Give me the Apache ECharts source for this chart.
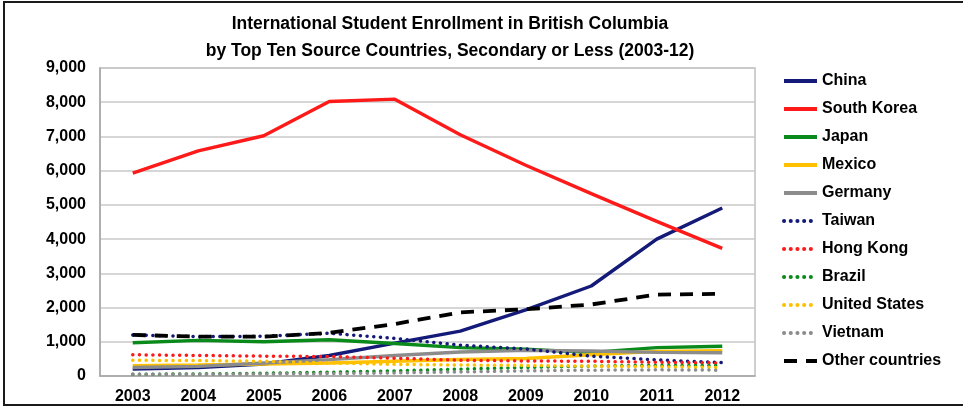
<!DOCTYPE html>
<html>
<head>
<meta charset="utf-8">
<script src="https://cdn.jsdelivr.net/npm/echarts@6/dist/echarts.min.js"></script>
<style>
html,body{margin:0;padding:0;background:#fff;}
#chart{width:963px;height:407px;}
</style>
</head>
<body>
<div id="chart"></div>
<script>
var years = ['2003','2004','2005','2006','2007','2008','2009','2010','2011','2012'];
var yTicks = [0,1000,2000,3000,4000,5000,6000,7000,8000,9000];

var china       = [200, 250, 350, 600, 960, 1310, 1930, 2630, 4000, 4910];
var southKorea  = [5930, 6580, 7020, 8020, 8090, 7050, 6160, 5330, 4520, 3730];
var japan       = [970, 1040, 1000, 1060, 950, 830, 780, 690, 830, 870];
var mexico      = [300, 320, 350, 380, 430, 480, 510, 620, 720, 740];
var germany     = [250, 280, 380, 480, 600, 700, 750, 730, 690, 680];
var taiwan      = [1200, 1150, 1160, 1250, 1100, 900, 790, 580, 470, 390];
var hongKong    = [620, 600, 580, 570, 520, 460, 440, 430, 400, 380];
var brazil      = [50, 60, 80, 110, 150, 200, 250, 290, 310, 310];
var unitedStates= [460, 450, 430, 380, 340, 320, 310, 290, 270, 250];
var vietnam     = [50, 50, 60, 70, 90, 120, 150, 170, 180, 170];
var otherCountries = [1200, 1150, 1150, 1260, 1520, 1860, 1950, 2090, 2380, 2400];

var seriesNames = ['China','South Korea','Japan','Mexico','Germany','Taiwan','Hong Kong','Brazil','United States','Vietnam','Other countries'];
var seriesData = [china, southKorea, japan, mexico, germany, taiwan, hongKong, brazil, unitedStates, vietnam, otherCountries];
var seriesColors = ['#141a78','#ff1a1a','#0a8a1a','#ffc000','#8c8c8c','#141a78','#ff1a1a','#0a8a1a','#ffc000','#8c8c8c','#000000'];
var seriesKind = ['solid','solid','solid','solid','solid','dot','dot','dot','dot','dot','dash'];

var FONT = '"Liberation Sans", Arial, sans-serif';

function styleFor(kind, color){
  if (kind === 'solid') return {color: color, width: 3.4, type: 'solid'};
  if (kind === 'dot') return {color: color, width: 3.5, type: [0.1, 6.6], cap: 'round'};
  return {color: color, width: 3.8, type: [13, 9], cap: 'butt'};
}

var series = seriesNames.map(function(n, i){
  return {
    name: n,
    type: 'line',
    data: seriesData[i],
    symbol: 'none',
    smooth: false,
    lineStyle: styleFor(seriesKind[i], seriesColors[i]),
    itemStyle: {color: seriesColors[i]},
    emphasis: {disabled: true},
    z: 2 + i
  };
});

var chart = echarts.init(document.getElementById('chart'), null, {renderer: 'canvas'});
chart.setOption({
  animation: false,
  backgroundColor: '#ffffff',
  textStyle: {fontFamily: FONT},
  title: {
    text: 'International Student Enrollment in British Columbia\nby Top Ten Source Countries, Secondary or Less (2003-12)',
    left: 445,
    textAlign: 'center',
    top: 6,
    textStyle: {fontFamily: FONT, fontSize: 17.5, fontWeight: 'bold', color: '#000', lineHeight: 27}
  },
  legend: {
    orient: 'vertical',
    left: 777,
    top: 68,
    itemWidth: 33,
    itemHeight: 14,
    itemGap: 12,
    itemStyle: {opacity: 0},
    lineStyle: {width: 4},
    textStyle: {fontFamily: FONT, fontSize: 16, fontWeight: 'bold', color: '#000'},
    data: seriesNames
  },
  grid: {
    left: 100, right: 208, top: 68, bottom: 31,
    show: true, borderColor: '#c0c0c0', borderWidth: 1.5, containLabel: false
  },
  xAxis: {
    type: 'category',
    data: years,
    boundaryGap: true,
    axisLine: {show: true, lineStyle: {color: '#a6a6a6', width: 1.5}},
    axisTick: {show: false},
    axisLabel: {fontFamily: FONT, fontSize: 16, fontWeight: 'bold', color: '#000', margin: 13}
  },
  yAxis: {
    type: 'value',
    min: 0, max: 9000, interval: 1000,
    axisLine: {show: true, lineStyle: {color: '#a6a6a6', width: 1.5}},
    axisTick: {show: false},
    splitLine: {lineStyle: {color: '#c8c8c8', width: 1.5}},
    axisLabel: {
      fontFamily: FONT, fontSize: 16, fontWeight: 'bold', color: '#000', margin: 14,
      formatter: function(v){ return v.toLocaleString('en-US'); }
    }
  },
  graphic: [{
    type: 'rect',
    shape: {x: 4, y: 2, width: 1000, height: 403},
    style: {fill: null, stroke: '#1a1a1a', lineWidth: 2},
    silent: true,
    z: 100
  }],
  series: series
});
</script>
</body>
</html>
